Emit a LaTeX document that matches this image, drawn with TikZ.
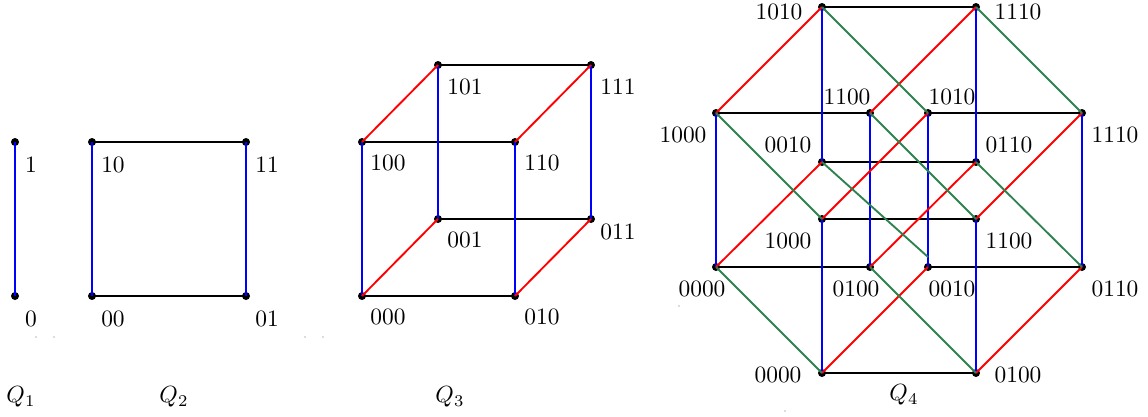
\documentclass[tikz,border=0pt]{standalone}
\usetikzlibrary{calc}
\definecolor{qgreen}{RGB}{46,130,80}
\begin{document}
\begin{tikzpicture}[x=0.015cm,y=-0.015cm,
  vdot/.style={fill=black},
  blk/.style={draw=black,line width=0.95pt},
  blu/.style={draw=blue,line width=0.8pt},
  rd/.style={draw=red,line width=0.8pt},
  grn/.style={draw=qgreen,line width=0.8pt},
  lab/.style={inner sep=0pt,font=\fontsize{10}{12}\selectfont},
  speck/.style={fill=black!60}]
\useasboundingbox (0,0) rectangle (1148,417);
% ---------- Q1 ----------
\coordinate (a0) at (15,296);
\coordinate (a1) at (15,142);
% ---------- Q2 ----------
\coordinate (b00) at (92,296);
\coordinate (b01) at (246,296);
\coordinate (b10) at (92,142);
\coordinate (b11) at (246,142);
% ---------- Q3 ----------
\coordinate (c000) at (362,296);
\coordinate (c010) at (515,296);
\coordinate (c100) at (362,142);
\coordinate (c110) at (515,142);
\coordinate (c001) at (438,219);
\coordinate (c011) at (591,219);
\coordinate (c101) at (438,65);
\coordinate (c111) at (591,65);
% ---------- Q4 ----------
% cube A
\coordinate (dA1) at (716,113);
\coordinate (dA2) at (870,113);
\coordinate (dA3) at (716,267);
\coordinate (dA4) at (870,267);
\coordinate (dA5) at (822,7);
\coordinate (dA6) at (976,7);
\coordinate (dA7) at (822,162);
\coordinate (dA8) at (976,162);
% cube B
\coordinate (dB1) at (928,113);
\coordinate (dB2) at (1082,113);
\coordinate (dB3) at (928,267);
\coordinate (dB4) at (1082,267);
\coordinate (dB5) at (822,219);
\coordinate (dB6) at (976,219);
\coordinate (dB7) at (822,373);
\coordinate (dB8) at (976,373);
\coordinate (gend) at (928,257);
% ---------- dots ----------
\foreach \p in {a0,a1,b00,b01,b10,b11,c000,c010,c100,c110,c001,c011,c101,c111,
  dA1,dA2,dA3,dA4,dA5,dA6,dA7,dA8,dB1,dB2,dB3,dB4,dB5,dB6,dB7,dB8}
  \fill[vdot] (\p) circle (4);
% ---------- edges Q1 ----------
\draw[blu] (a0) -- (a1);
% ---------- edges Q2 ----------
\draw[blk] (b10) -- (b11);
\draw[blk] (b00) -- (b01);
\draw[blu] (b00) -- (b10);
\draw[blu] (b01) -- (b11);
% ---------- edges Q3 ----------
\draw[blk] (c101) -- (c111);
\draw[blk] (c100) -- (c110);
\draw[blk] (c001) -- (c011);
\draw[blk] (c000) -- (c010);
\draw[blu] (c000) -- (c100);
\draw[blu] (c010) -- (c110);
\draw[blu] (c001) -- (c101);
\draw[blu] (c011) -- (c111);
\draw[rd] (c100) -- (c101);
\draw[rd] (c110) -- (c111);
\draw[rd] (c000) -- (c001);
\draw[rd] (c010) -- (c011);
% ---------- edges Q4 ----------
\draw[blk] (dA5) -- (dA6);
\draw[blk] (dA1) -- (dA2);
\draw[blk] (dB1) -- (dB2);
\draw[blk] (dA7) -- (dA8);
\draw[blk] (dB5) -- (dB6);
\draw[blk] (dA3) -- (dA4);
\draw[blk] (dB3) -- (dB4);
\draw[blk] (dB7) -- (dB8);
\draw[blu] (dA1) -- (dA3);
\draw[blu] (dA2) -- (dA4);
\draw[blu] (dA5) -- (dA7);
\draw[blu] (dA6) -- (dA8);
\draw[blu] (dB1) -- (dB3);
\draw[blu] (dB2) -- (dB4);
\draw[blu] (dB5) -- (dB7);
\draw[blu] (dB6) -- (dB8);
\draw[rd] (dA1) -- (dA5);
\draw[rd] (dA2) -- (dA6);
\draw[rd] (dA3) -- (dA7);
\draw[rd] (dA4) -- (dA8);
\draw[rd] (dB5) -- (dB1);
\draw[rd] (dB6) -- (dB2);
\draw[rd] (dB7) -- (dB3);
\draw[rd] (dB8) -- (dB4);
\draw[grn] (dA5) -- (dB1);
\draw[grn] (dA6) -- (dB2);
\draw[grn] (dA1) -- (dB5);
\draw[grn] (dA2) -- (dB6);
\draw[grn] (dA7) -- (gend);
\draw[grn] (dA8) -- (dB4);
\draw[grn] (dA3) -- (dB7);
\draw[grn] (dA4) -- (dB8);
% ---------- labels ----------
\node[lab] (la1) at (31,165) {1};
\node[lab] (la0) at (31,319) {0};
\node[lab] (lb10) at (113,165) {10};
\node[lab] (lb11) at (267,165) {11};
\node[lab] (lb00) at (113,319) {00};
\node[lab] (lb01) at (267,319) {01};
\node[lab] (lc101) at (465,87) {101};
\node[lab] (lc111) at (618,87) {111};
\node[lab] (lc100) at (388,163) {100};
\node[lab] (lc110) at (542,163) {110};
\node[lab] (lc001) at (465,240) {001};
\node[lab] (lc011) at (618,232) {011};
\node[lab] (lc000) at (388,317) {000};
\node[lab] (lc010) at (542,317) {010};
\node[lab] (ld1) at (779,12) {1010};
\node[lab] (ld2) at (1018,12) {1110};
\node[lab] (ld3) at (847,97) {1100};
\node[lab] (ld4) at (952,97) {1010};
\node[lab] (ld5) at (683,135) {1000};
\node[lab] (ld6) at (1115,135) {1110};
\node[lab] (ld7) at (788,145) {0010};
\node[lab] (ld8) at (1009,145) {0110};
\node[lab] (ld9) at (788,241) {1000};
\node[lab] (ld10) at (1009,241) {1100};
\node[lab] (ld11) at (702,289) {0000};
\node[lab] (ld12) at (856,289) {0100};
\node[lab] (ld13) at (952,289) {0010};
\node[lab] (ld14) at (1115,289) {0110};
\node[lab] (ld15) at (778,375) {0000};
\node[lab] (ld16) at (1018,375) {0100};
\node[lab] (q1) at (21,397) {$Q_1$};
\node[lab] (q2) at (174,397) {$Q_2$};
\node[lab] (q3) at (450,397) {$Q_3$};
\node[lab] (q4) at (904,395) {$Q_4$};
% ---------- tiny specks ----------
\foreach \p in {(36,337),(54,337),(305,337),(323,337),(679,306),(785,411)}
  \fill[speck] \p circle (0.7);
\end{tikzpicture}
\end{document}
